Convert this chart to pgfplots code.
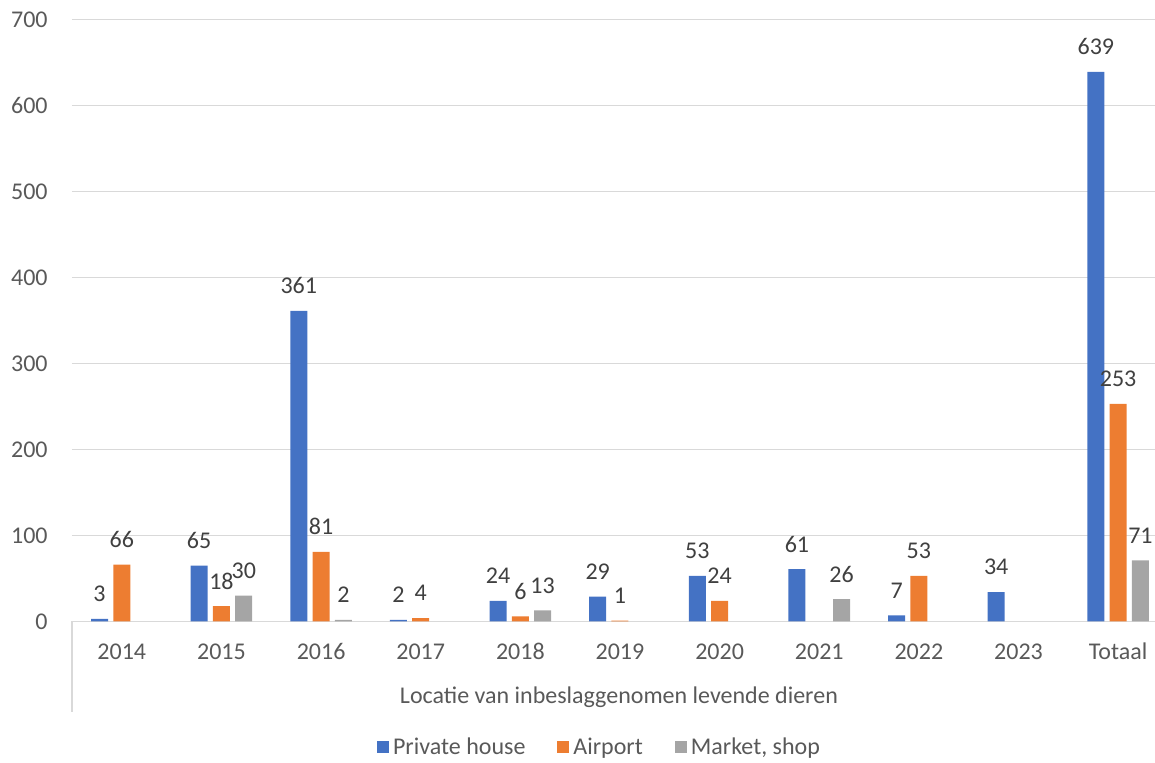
\documentclass[border=0pt]{standalone}
\usepackage{fontspec}
\setmainfont{Carlito}
\usepackage{pgfplots}
\pgfplotsset{compat=1.18}
\definecolor{cblue}{HTML}{4472C4}
\definecolor{corange}{HTML}{ED7D31}
\definecolor{cgray}{HTML}{A5A5A5}
\definecolor{gridc}{HTML}{D9D9D9}
\definecolor{txt}{HTML}{595959}
\definecolor{lbl}{HTML}{404040}
\newcommand{\fnt}{\fontsize{12}{14}\selectfont}
\begin{document}
\begin{tikzpicture}
\path[use as bounding box] (0,0) rectangle (577.5pt,381.5pt);
\begin{axis}[
  at={(36pt,70.75pt)}, anchor=south west,
  scale only axis, width=541.5pt, height=301.1pt,
  xmin=-0.5, xmax=10.37, ymin=0, ymax=700,
  ybar=2.65pt, bar width=8.5pt,
  ytick={0,100,...,700},
  xtick={0,...,10},
  xticklabels={2014,2015,2016,2017,2018,2019,2020,2021,2022,2023,Totaal},
  ymajorgrids, grid style={gridc, line width=0.75pt},
  axis x line*=bottom, axis y line*=left,
  x axis line style={gridc, line width=0.75pt, -},
  y axis line style={draw=none},
  major tick length=0pt,
  tick style={draw=none},
  /pgf/number format/assume math mode=true,
  ticklabel style={font=\fnt, text=txt},
  yticklabel style={anchor=east, inner sep=0pt, xshift=-12pt},
  xticklabel style={anchor=base, inner sep=0pt, yshift=-19pt},
  xlabel={Locatie van inbeslaggenomen levende dieren},
  xlabel style={at={(axis description cs:0.505,0)}, anchor=center, yshift=-38pt, font=\fnt, text=txt, inner sep=0pt},
  legend style={at={(axis description cs:0.488,0)}, anchor=center, yshift=-63pt,
    draw=none, fill=none, font=\fnt, text=txt, legend columns=3,
    /tikz/every even column/.append style={column sep=14pt},
    inner sep=0pt},
  legend image code/.code={\fill[#1] (0pt,-3pt) rectangle (6pt,3pt);},
  nodes near coords,
  every node near coord/.append style={font=\fnt, text=lbl, anchor=center, yshift=12.5pt, inner sep=0pt},
  clip=false,
]
\addplot[draw=none, fill=cblue] coordinates {
 (0,3) (1,65) (2,361) (3,2) (4,24) (5,29) (6,53) (7,61) (8,7) (9,34) (10,639)};
\addlegendentry{Private house}
\addplot[draw=none, fill=corange] coordinates {
 (0,66) (1,18) (2,81) (3,4) (4,6) (5,1) (6,24) (8,53) (10,253)};
\addlegendentry{Airport}
\addplot[draw=none, fill=cgray] coordinates {
 (1,30) (2,2) (4,13) (7,26) (10,71)};
\addlegendentry{Market, shop}
\draw[gridc, line width=0.75pt] (rel axis cs:0,0) -- ([yshift=-45.5pt]rel axis cs:0,0);
\end{axis}
\end{tikzpicture}
\end{document}
